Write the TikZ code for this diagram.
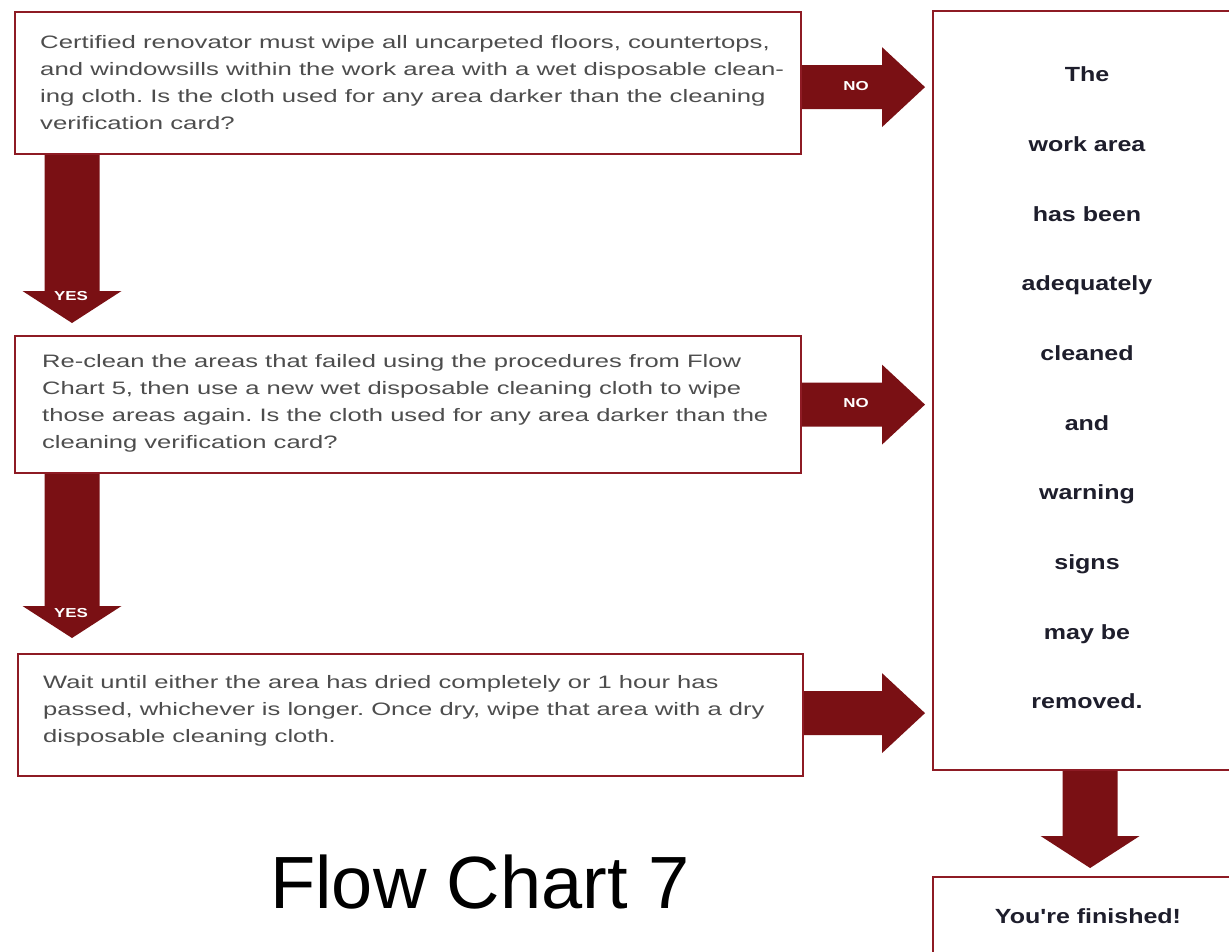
\documentclass[tikz,border=0pt]{standalone}
\usepackage{fontspec}
\setmainfont{Liberation Sans}
\newfontfamily\bodyfontA[FakeStretch=1.43]{Liberation Sans}
\newfontfamily\bodyfont[FakeStretch=1.42]{Liberation Sans}
\newfontfamily\rightfont[FakeStretch=1.22]{Liberation Sans}
\newfontfamily\labfont[FakeStretch=1.3]{Liberation Sans}
\usetikzlibrary{calc}
\frenchspacing
\definecolor{arrowred}{HTML}{7A1014}
\definecolor{boxred}{HTML}{8E1B24}
\definecolor{bodygray}{HTML}{4D4D4D}
\definecolor{darktext}{HTML}{1E1E2C}
% block arrow to the right: #1 start node, #2 target node, #3 vertical offset (pt, up positive)
\newcommand\blockright[3]{%
  \fill[arrowred] let \p1=(#1.east), \p2=(#2.west) in
    (\x1,\y1+#3+22pt) -- (\x2-50pt,\y1+#3+22pt) -- (\x2-50pt,\y1+#3+40pt)
    -- (\x2-7pt,\y1+#3) -- (\x2-50pt,\y1+#3-40pt) -- (\x2-50pt,\y1+#3-22pt)
    -- (\x1,\y1+#3-22pt) -- cycle;}
% block arrow down: #1 start anchor, #2 target anchor, #3 x-centre point, #4 gap to target
\newcommand\blockdown[4]{%
  \fill[arrowred] let \p1=(#1), \p2=(#2), \p3=(#3) in
    (\x3-27.5pt,\y1) -- (\x3-27.5pt,\y2+#4+32pt) -- (\x3-49.5pt,\y2+#4+32pt)
    -- (\x3,\y2+#4) -- (\x3+49.5pt,\y2+#4+32pt) -- (\x3+27.5pt,\y2+#4+32pt)
    -- (\x3+27.5pt,\y1) -- cycle;}
\begin{document}
\begin{tikzpicture}[x=1pt,y=-1pt,
  box/.style={draw=boxred, line width=2.2pt, fill=white, rectangle, inner sep=0pt, anchor=north west},
  qtext/.style={anchor=west, align=left, inner sep=0pt, text=bodygray,
    font=\bodyfont\fontsize{18}{27}\selectfont},
  rtext/.style={align=center, inner sep=0pt, text=darktext,
    font=\rightfont\bfseries\fontsize{20.5}{69.67}\selectfont},
  lab/.style={text=white, inner sep=0pt, font=\labfont\bfseries\fontsize{13}{15}\selectfont}
]
\useasboundingbox (0,0) rectangle (1229,951);
\fill[white] (0,0) rectangle (1229,951);
\clip (0,0) rectangle (1229,951);

% boxes
\node[box, minimum width=786pt, minimum height=142pt] (b1) at (14,11) {};
\node[box, minimum width=786pt, minimum height=137pt] (b2) at (14,335) {};
\node[box, minimum width=785pt, minimum height=122pt] (b3) at (17,653) {};
\node[box, minimum width=310pt, minimum height=759pt] (rb) at (932,10) {};
\node[box, minimum width=310pt, minimum height=90pt] (fb) at (932,876) {};

% texts
\node[qtext, font=\bodyfontA\fontsize{18}{27}\selectfont] (t1) at ($(b1.west)+(26,-1)$) {Certified renovator must wipe all uncarpeted floors, countertops,\\
and windowsills within the work area with a wet disposable clean-\\
ing cloth. Is the cloth used for any area darker than the cleaning\\
verification card?};
\node[qtext] (t2) at ($(b2.west)+(28,-1)$) {Re-clean the areas that failed using the procedures from Flow\\
Chart 5, then use a new wet disposable cleaning cloth to wipe\\
those areas again. Is the cloth used for any area darker than the\\
cleaning verification card?};
\node[qtext] (t3) at ($(b3.west)+(26,-4)$) {Wait until either the area has dried completely or 1 hour has\\
passed, whichever is longer. Once dry, wipe that area with a dry\\
disposable cleaning cloth.};
\node[rtext] (rt) at (1087,388) {The\\work area\\has been\\adequately\\cleaned\\and\\warning\\signs\\may be\\removed.};
\node[text=darktext, inner sep=0pt, font=\rightfont\bfseries\fontsize{20.5}{24}\selectfont] (ft) at (1088,916) {You're finished!};

% arrows
\blockright{b1}{rb}{-4pt}
\blockright{b2}{rb}{0pt}
\blockright{b3}{rb}{2pt}
\coordinate (d1) at ($(b1.south west)+(58,0)$);
\coordinate (d2) at ($(b2.south west)+(58,0)$);
\coordinate (d3) at ($(rb.south)+(2,0)$);
\blockdown{b1.south}{b2.north}{d1}{12pt}
\blockdown{b2.south}{b3.north}{d2}{15pt}
\blockdown{rb.south}{fb.north}{d3}{8pt}

% arrow labels
\node[lab] (no1) at (856,86) {NO};
\node[lab] (no2) at (856,403) {NO};
\node[lab] (yes1) at (71,296) {YES};
\node[lab] (yes2) at (71,613) {YES};

% title
\node[anchor=base, inner sep=0pt, font=\fontsize{74}{80}\selectfont] (title) at (480,908) {Flow Chart 7};
\end{tikzpicture}
\end{document}
